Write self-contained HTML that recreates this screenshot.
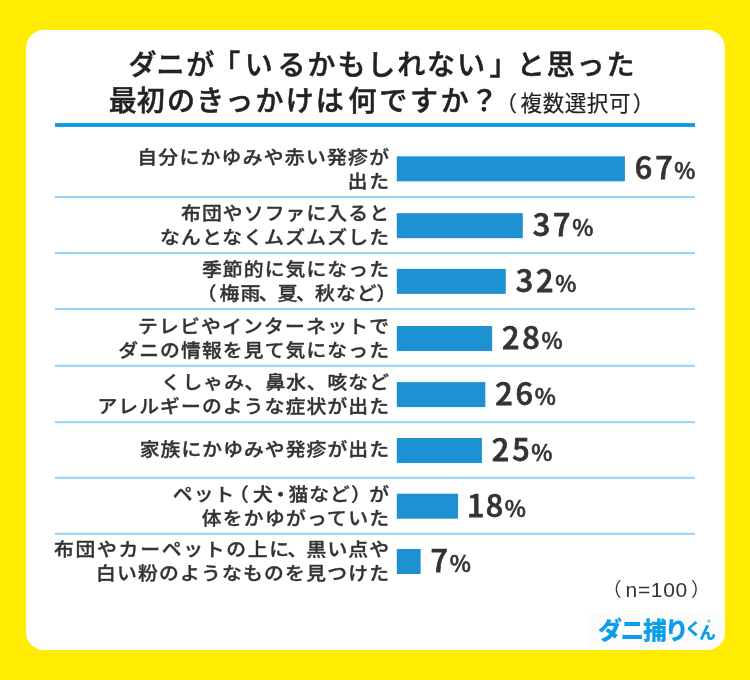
<!DOCTYPE html>
<html lang="ja">
<head>
<meta charset="utf-8">
<title>ダニが「いるかもしれない」と思った最初のきっかけは何ですか？</title>
<style>
  html, body { margin: 0; padding: 0; }
  body {
    width: 750px; height: 680px; overflow: hidden; position: relative;
    background: #ffec00;
    font-family: "Liberation Sans", "Noto Sans CJK JP", sans-serif;
    color: #333;
  }
  .card {
    position: absolute; left: 26px; top: 30px; width: 699px; height: 620px;
    background: #fff; border-radius: 18px; overflow: hidden;
  }
  .patch { position: absolute; left: 564px; top: 580px; width: 135px; height: 39px; background: #fcfcfc; }
  .layer { position: absolute; left: 0; top: 0; width: 750px; height: 680px; will-change: transform; }
  .shapes { position: absolute; left: 0; top: 0; }
  .title {
    position: absolute; left: 0; width: 750px; text-align: center;
    font-family: "Noto Sans CJK JP", "Liberation Sans", sans-serif;
    font-weight: 500; color: #222; white-space: nowrap;
    font-size: 28px; letter-spacing: 1.9px; line-height: 36px;
    -webkit-text-stroke: 0.5px #222;
  }
  .t1 { top: 45.2px; left: 8px; }
  .t2 { top: 81px; left: 108.7px; text-align: left; letter-spacing: 2.15px; }
  .t1 .ko { margin-left: -4px; margin-right: 2.5px; }
  .t1 .kc { margin-left: 2.5px; margin-right: -2.5px; }
  .t2 .q { margin-left: -0.6px; margin-right: 0.6px; }
  .title .sub { font-size: 21.5px; font-weight: 400; letter-spacing: 0.6px; -webkit-text-stroke: 0.2px #222; margin-left: -3.2px; }
  .label {
    position: absolute; right: 361.5px; width: 380px; text-align: right;
    font-family: "Noto Sans CJK JP", "Liberation Sans", sans-serif;
    font-weight: 500; font-size: 18.5px; letter-spacing: 2.45px; line-height: 24px;
    white-space: nowrap; color: #333; -webkit-text-stroke: 0.35px #333;
    transform: scaleX(1.07); transform-origin: 100% 50%;
  }
  .label .cm { margin-left: -2.52px; margin-right: -1.68px; }
  .label .pm { margin-left: -2.99px; margin-right: -2.99px; }
  .val {
    position: absolute; height: 40px; line-height: 40px; white-space: nowrap;
    font-family: "Noto Sans CJK JP", "Liberation Sans", sans-serif;
    font-weight: 500; font-size: 30.6px; color: #333; letter-spacing: 2.9px; -webkit-text-stroke: 0.75px #333;
  }
  .val small { font-size: 22.5px; font-weight: 500; letter-spacing: 0; margin-left: -1.2px; -webkit-text-stroke: 0.6px #333; }
  .n {
    position: absolute; left: 600.7px; top: 576.3px; width: 110px; text-align: right;
    font-family: "Liberation Sans", "Noto Sans CJK JP", sans-serif;
    font-size: 21px; line-height: 28px; color: #333; letter-spacing: 0.7px; white-space: nowrap;
  }
  .n .p { font-size: 19px; }
  .logo { position: absolute; left: 590px; top: 608px; }
</style>
</head>
<body>
<div class="card"><div class="patch"></div></div>
<div class="layer">
<svg class="shapes" width="750" height="680" viewBox="0 0 750 680">
<rect x="55" y="123.1" width="640" height="3.8" fill="#069ce6"/>
<rect x="55" y="196.00" width="640" height="2.1" fill="#9bd5f6"/>
<rect x="55" y="252.00" width="640" height="2.1" fill="#9bd5f6"/>
<rect x="55" y="307.90" width="640" height="2.1" fill="#9bd5f6"/>
<rect x="55" y="364.80" width="640" height="2.1" fill="#9bd5f6"/>
<rect x="55" y="421.10" width="640" height="2.1" fill="#9bd5f6"/>
<rect x="55" y="476.80" width="640" height="2.1" fill="#9bd5f6"/>
<rect x="55" y="532.80" width="640" height="2.1" fill="#9bd5f6"/>
<rect x="396.8" y="156.30" width="228.13" height="25" fill="#1e91d3"/>
<rect x="396.8" y="213.20" width="125.98" height="25" fill="#1e91d3"/>
<rect x="396.8" y="268.90" width="108.96" height="25" fill="#1e91d3"/>
<rect x="396.8" y="326.00" width="95.34" height="25" fill="#1e91d3"/>
<rect x="396.8" y="382.10" width="88.53" height="25" fill="#1e91d3"/>
<rect x="396.8" y="438.00" width="85.12" height="25" fill="#1e91d3"/>
<rect x="396.8" y="493.70" width="61.29" height="25" fill="#1e91d3"/>
<rect x="396.8" y="549.00" width="23.83" height="25" fill="#1e91d3"/>
</svg>

<div class="title t1"><span style="margin-right:-3px;position:relative;left:-1.2px">ダ</span>ニが<span class="ko">「</span><span style="margin-right:3px">い</span>るかもしれない<span class="kc">」</span>と思った</div>
<div class="title t2"><span style="margin-right:-2px">最</span><span style="margin-right:2.6px">初のきっかけは</span><span style="letter-spacing:2.75px">何です</span>か<span class="q">？</span><span class="sub"><span style="margin-left:-2.5px;margin-right:3px">（</span>複数選択可<span style="margin-left:1.6px">）</span></span></div>

<div class="label" style="top:143.5px"><div style="letter-spacing:1.21px;margin-right:-1.21px">自分にかゆみや赤い発疹が</div><div style="letter-spacing:1.46px;margin-right:-1.46px">出た</div></div>
<div class="val" style="left:634.8px;top:146.2px">67<small>%</small></div>
<div class="label" style="top:200.4px"><div style="letter-spacing:1.04px;margin-right:-1.04px">布団やソファに入ると</div><div style="letter-spacing:1.11px;margin-right:-1.11px">なんとなくムズムズした</div></div>
<div class="val" style="left:532.7px;top:203.1px">37<small>%</small></div>
<div class="label" style="top:256.1px"><div style="letter-spacing:1.04px;margin-right:-1.04px">季節的に気になった</div><div style="letter-spacing:1.00px;margin-right:-1.00px"><span style="margin-right:1.78px">（</span>梅雨<span class="cm">、</span>夏<span class="cm">、</span>秋など<span style="margin-left:-1.21px;margin-right:-6.73px">）</span></div></div>
<div class="val" style="left:515.7px;top:258.8px">32<small>%</small></div>
<div class="label" style="top:313.2px"><div style="letter-spacing:1.14px;margin-right:-1.14px">テレビやインターネットで</div><div style="letter-spacing:1.04px;margin-right:-1.04px">ダニの情報を見て気になった</div></div>
<div class="val" style="left:502.0px;top:315.9px">28<small>%</small></div>
<div class="label" style="top:369.3px"><div style="letter-spacing:1.00px;margin-right:-1.00px"><span style="margin-right:0.65px">く</span>しゃみ<span style="margin-left:-0.56px">、</span>鼻水<span style="margin-left:-0.37px;margin-right:-0.19px">、</span>咳など</div><div style="letter-spacing:1.04px;margin-right:-1.04px">アレルギーのような症状が出た</div></div>
<div class="val" style="left:495.2px;top:372.0px">26<small>%</small></div>
<div class="label" style="top:436.2px"><div style="letter-spacing:1.00px;margin-right:-1.00px">家族にかゆみや発疹が出た</div></div>
<div class="val" style="left:491.8px;top:427.9px">25<small>%</small></div>
<div class="label" style="top:480.9px"><div style="letter-spacing:1.00px;margin-right:-1.00px">ペット<span style="margin-left:-6.07px;margin-right:2.99px">（</span>犬<span class="pm">・</span>猫など<span style="margin-right:-2.52px">）</span>が</div><div style="letter-spacing:1.18px;margin-right:-1.18px">体をかゆがっていた</div></div>
<div class="val" style="left:468.0px;top:483.6px"><span style='letter-spacing:1.2px;margin-left:-1px'>1</span>8<small>%</small></div>
<div class="label" style="top:536.2px"><div style="letter-spacing:1.00px;margin-right:-1.00px"><span style="letter-spacing:1.62px">布団やカーペットの上</span>に<span class="cm">、</span>黒い点や</div><div style="letter-spacing:1.14px;margin-right:-1.14px">白い粉のようなものを見つけた</div></div>
<div class="val" style="left:430.5px;top:538.9px">7<small>%</small></div>

<div class="n"><span class="p" style="margin-right:3.2px">（</span>n=100<span class="p" style="margin-left:3px">）</span></div>

<svg class="logo" width="135" height="42" viewBox="0 0 135 42">
  <text font-family="'Noto Sans CJK JP', 'Liberation Sans', sans-serif" font-weight="900" fill="#0b9fea" font-size="23.9" x="8.0 30.6 52.9 74.8" y="31.1 31.3 31.0 30.9">ダニ捕り<tspan font-size="16.6" x="95.0 109.2" y="26.9 31.2">くん</tspan></text>
  <circle cx="118.8" cy="13.2" r="1.1" fill="none" stroke="#0b9fea" stroke-width="0.8"/>
</svg>
</div>
</body>
</html>
